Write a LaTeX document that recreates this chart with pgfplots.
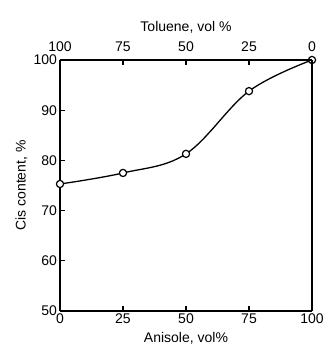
\documentclass[border=0pt]{standalone}
\usepackage{pgfplots}
\pgfplotsset{compat=1.18}
\usepackage{fontspec}
\setmainfont{Liberation Sans}
\begin{document}
\begin{tikzpicture}
\pgfplotsset{every axis/.append style={
  scale only axis, width=252pt, height=251pt,
  xmin=0, xmax=100, ymin=50, ymax=100,
  line width=1.3pt,
  tick style={line width=1.2pt, black},
  major tick length=5pt,
  tick align=inside,
  font=\fontsize{14}{16}\selectfont,
  /pgf/number format/assume math mode=true,
}}
\begin{axis}[name=ax,
  axis x line*=bottom, axis y line*=left,
  xtick={0,25,50,75,100}, ytick={50,60,70,80,90,100},
  xlabel={Anisole, vol\%}, ylabel={Cis content, \%},
  xlabel style={yshift=-1pt}, ylabel style={yshift=-1pt},
  yticklabel style={xshift=1pt},
  xticklabel style={yshift=1pt},
  clip=false,
]
\addplot[black, line width=1.3pt, smooth, tension=0.6] coordinates {(0,75.3) (25,77.5) (50,81.3) (75,93.8) (100,100)};
\addplot[only marks, mark=*, mark size=3.6pt, mark options={fill=white, draw=black, line width=1.2pt}] coordinates {(0,75.3) (25,77.5) (50,81.3) (75,93.8) (100,100)};
\end{axis}
\begin{axis}[
  axis x line*=top, axis y line*=right,
  xtick={0,25,50,75,100}, xticklabels={100,75,50,25,0},
  xticklabel style={yshift=4pt},
  ytick=\empty,
  xlabel={Toluene, vol \%},
  xlabel style={yshift=1pt},
]
\end{axis}
\pgfresetboundingbox
\path ([shift={(-60pt,-44pt)}]ax.south west) rectangle ([shift={(14pt,60pt)}]ax.north east);
\end{tikzpicture}
\end{document}
